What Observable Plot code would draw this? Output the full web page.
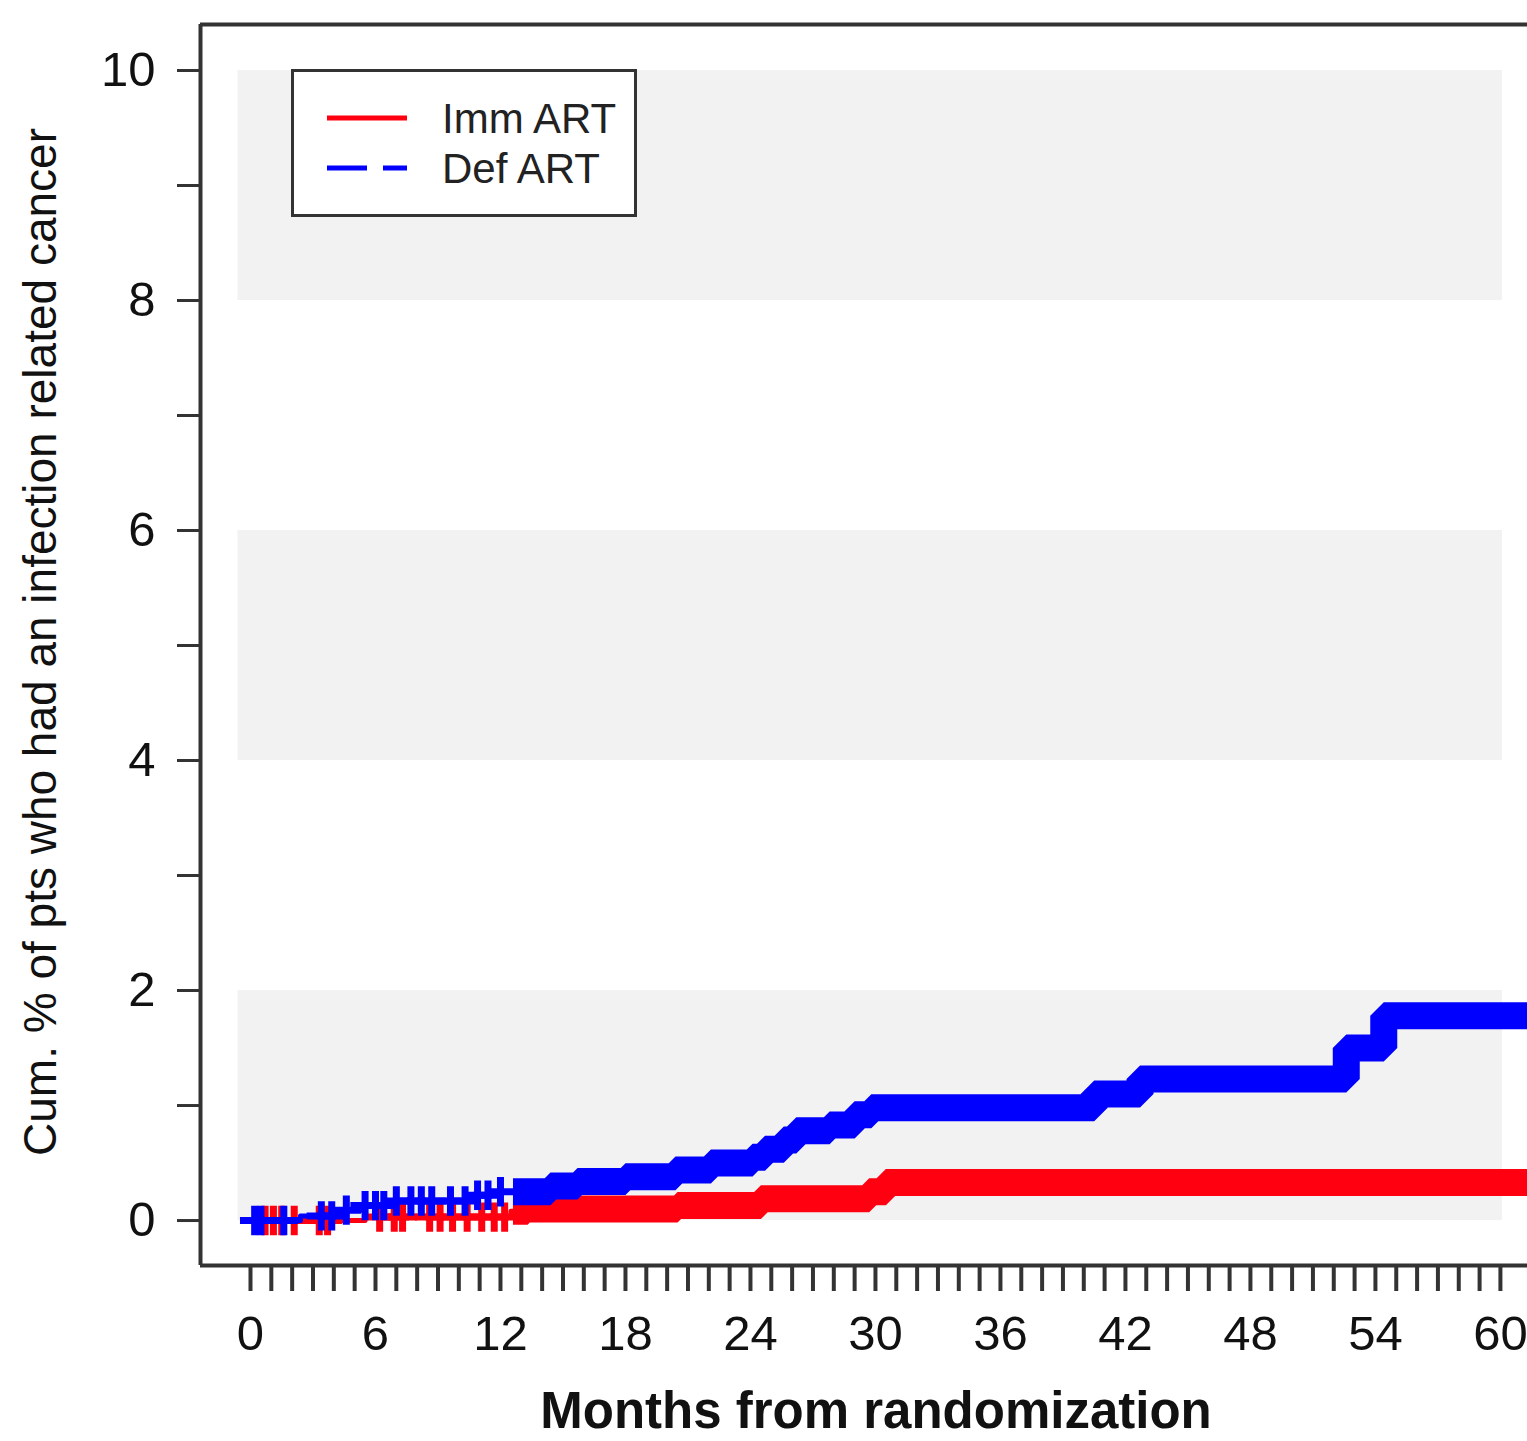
<!DOCTYPE html>
<html><head><meta charset="utf-8">
<script src="https://cdn.jsdelivr.net/npm/d3@7"></script>
<script src="https://cdn.jsdelivr.net/npm/@observablehq/plot@0.6"></script>
<style>
html,body{margin:0;padding:0;background:#fff;overflow:hidden}
#wrap{position:relative;width:1527px;height:1441px;overflow:hidden}
#legend{position:absolute;left:291px;top:69px}
text{font-family:"Liberation Sans",Arial,Helvetica,sans-serif}
</style></head><body>
<div id="wrap"><div id="chart"></div></div>
<script>
// ---------- data ----------
const armNames = ["Imm ART", "Def ART"];
const armColors = ["#ff0010", "#0000ff"];

// Kaplan-Meier style cumulative % steps: month where the step starts, value after the step
const immMonths = [0, 5.5, 12.5, 13.3, 20.5, 24.5, 29.7, 30.5];
const immCum    = [0, 0.03, 0.08, 0.10, 0.13, 0.19, 0.25, 0.33];

const defMonths = [0, 2.4, 4.3, 5.5, 6.5, 10.6, 11.5, 14.4, 15.7, 18.0, 20.4, 22.1, 24.1, 24.7, 25.6, 26.2, 27.8, 29.0, 29.8, 40.5, 42.7, 52.6, 54.4];
const defCum    = [0, 0.04, 0.09, 0.13, 0.17, 0.22, 0.25, 0.30, 0.34, 0.38, 0.44, 0.50, 0.55, 0.62, 0.70, 0.78, 0.83, 0.92, 0.98, 1.10, 1.23, 1.50, 1.78];

// individually visible censoring marks (early, sparse part of follow-up)
const immCensor = [0.7, 1.1, 1.5, 2.1, 3.3, 3.7, 6.2, 6.9, 7.3, 8.6, 9.1, 9.7, 10.4, 11.1, 11.7, 12.2];
const defCensor = [0.2, 0.5, 1.6, 3.4, 3.9, 4.6, 5.5, 6.0, 6.4, 7.0, 7.7, 8.2, 8.7, 9.6, 10.3, 10.9, 11.4, 12.0];
// from these months on the censoring marks are so dense that they merge into a solid band
const immDenseFrom = 12.6;
const defDenseFrom = 12.6;
const followUpEnd = 63;

const yTicks = [0, 1, 2, 3, 4, 5, 6, 7, 8, 9, 10];
const yTickLabels = [0, 2, 4, 6, 8, 10];
const xTicks = [0,1,2,3,4,5,6,7,8,9,10,11,12,13,14,15,16,17,18,19,20,21,22,23,24,25,26,27,28,29,30,31,32,33,34,35,36,37,38,39,40,41,42,43,44,45,46,47,48,49,50,51,52,53,54,55,56,57,58,59,60];
const xTickLabels = [0, 6, 12, 18, 24, 30, 36, 42, 48, 54, 60];

const shadeLo = [0, 4, 8];
const shadeHi = [2, 6, 10];
const shadeFrom = -0.6, shadeTo = 60.1;

const xDomain = [-2.4, 61.3];
const yDomain = [-0.391, 10.4];

const yTitle = "Cum. % of pts who had an infection related cancer";
const xTitle = "Months from randomization";

// ---------- derived tables ----------
function stepValue(months, vals, t) {
  let v = vals[0];
  for (let i = 0; i < months.length; i++) if (months[i] <= t) v = vals[i];
  return v;
}
function stepPoints(months, vals, from, to) {
  const pts = [{x: from, y: stepValue(months, vals, from)}];
  months.forEach((m, i) => { if (m > from && m < to) pts.push({x: m, y: vals[i]}); });
  pts.push({x: to, y: stepValue(months, vals, to)});
  return pts;
}
const arms = [
  {months: immMonths, vals: immCum, censor: immCensor, dense: immDenseFrom, color: armColors[0]},
  {months: defMonths, vals: defCum, censor: defCensor, dense: defDenseFrom, color: armColors[1]}
];
const shades = shadeLo.map((lo, i) => ({x1: shadeFrom, x2: shadeTo, y1: lo, y2: shadeHi[i]}));

const marks = [
  Plot.rect(shades, {x1: "x1", x2: "x2", y1: "y1", y2: "y2", fill: "#f2f2f2"})
];
for (const a of arms) {
  marks.push(Plot.line(stepPoints(a.months, a.vals, 0, followUpEnd), {x: "x", y: "y", curve: "step-after", stroke: a.color, strokeWidth: 5}));
  marks.push(Plot.dot(a.censor.map(t => ({x: t, y: stepValue(a.months, a.vals, t)})), {x: "x", y: "y", symbol: "plus", r: 9.5, stroke: a.color, strokeWidth: 7}));
  marks.push(Plot.line(stepPoints(a.months, a.vals, a.dense, followUpEnd), {x: "x", y: "y", curve: "step-after", stroke: a.color, strokeWidth: 27, strokeLinecap: "butt", strokeLinejoin: "miter"}));
}
marks.push(
  Plot.ruleX([xDomain[0]], {stroke: "#333", strokeWidth: 4}),
  Plot.ruleY([yDomain[0], yDomain[1]], {stroke: "#333", strokeWidth: 4}),
  Plot.axisY({ticks: yTicks, tickSize: 23, tickPadding: 22, tickFormat: d => yTickLabels.includes(d) ? String(d) : "", fontSize: 49, stroke: "#333", strokeWidth: 3, fill: "#111", label: null}),
  Plot.axisX({ticks: xTicks, tickSize: 26, tickPadding: 24, tickFormat: d => xTickLabels.includes(d) ? String(d) : "", fontSize: 49, stroke: "#333", strokeWidth: 4, fill: "#111", label: null})
);

const chart = Plot.plot({
  width: 1527, height: 1441,
  marginLeft: 200, marginRight: 0, marginTop: 24, marginBottom: 176,
  x: {domain: xDomain, axis: null},
  y: {domain: yDomain, axis: null},
  style: {fontFamily: '"Liberation Sans", Arial, sans-serif', background: "#fff", color: "#111"},
  marks
});
document.getElementById("chart").appendChild(chart);

// axis titles
const svg = d3.select(chart);
svg.append("text").attr("transform", "translate(56,642) rotate(-90)")
  .attr("text-anchor", "middle").attr("font-size", 46).attr("fill", "#111").text(yTitle);
svg.append("text").attr("x", 876).attr("y", 1428).attr("text-anchor", "middle")
  .attr("font-size", 51).attr("font-weight", "bold").attr("fill", "#111").text(xTitle);

// legend box
const lg = d3.select("#wrap").append("svg").attr("id", "legend").attr("width", 346).attr("height", 148);
lg.append("rect").attr("x", 1.5).attr("y", 1.5).attr("width", 343).attr("height", 145)
  .attr("fill", "#fff").attr("stroke", "#333").attr("stroke-width", 3);
const dashes = [null, "40,16"];
armNames.forEach((n, i) => {
  const yy = 49 + i * 50;
  lg.append("line").attr("x1", 36).attr("x2", 116).attr("y1", yy).attr("y2", yy)
    .attr("stroke", armColors[i]).attr("stroke-width", 5).attr("stroke-dasharray", dashes[i]);
  lg.append("text").attr("x", 151).attr("y", yy).attr("dy", "0.36em")
    .attr("font-size", 42).attr("fill", "#222").text(n);
});
</script></body></html>
